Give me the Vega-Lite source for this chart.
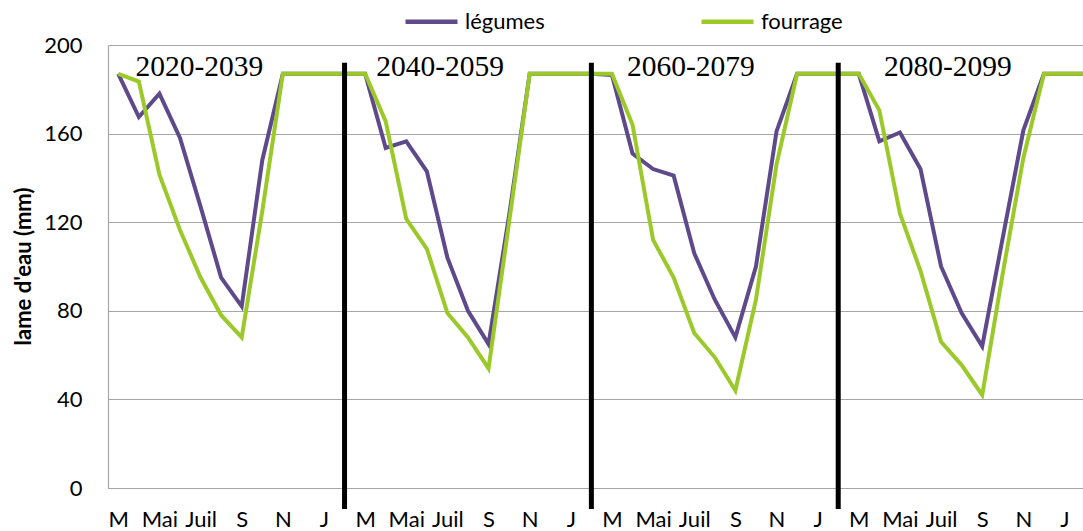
{
  "$schema": "https://vega.github.io/schema/vega-lite/v6.json",
  "autosize": "none",
  "width": 975,
  "height": 443,
  "padding": {"left": 108, "top": 45, "right": 0, "bottom": 43},
  "background": "white",
  "config": {"view": {"stroke": null}, "font": "Lato"},
  "datasets": {
    "series": [
      {"idx": 0, "period": "2020-2039", "month": "M", "crop": "légumes", "value": 187},
      {"idx": 1, "period": "2020-2039", "month": "A", "crop": "légumes", "value": 167.5},
      {"idx": 2, "period": "2020-2039", "month": "Mai", "crop": "légumes", "value": 178},
      {"idx": 3, "period": "2020-2039", "month": "Juin", "crop": "légumes", "value": 158},
      {"idx": 4, "period": "2020-2039", "month": "Juil", "crop": "légumes", "value": 127},
      {"idx": 5, "period": "2020-2039", "month": "Août", "crop": "légumes", "value": 95},
      {"idx": 6, "period": "2020-2039", "month": "S", "crop": "légumes", "value": 82},
      {"idx": 7, "period": "2020-2039", "month": "O", "crop": "légumes", "value": 148},
      {"idx": 8, "period": "2020-2039", "month": "N", "crop": "légumes", "value": 187},
      {"idx": 9, "period": "2020-2039", "month": "D", "crop": "légumes", "value": 187},
      {"idx": 10, "period": "2020-2039", "month": "J", "crop": "légumes", "value": 187},
      {"idx": 11, "period": "2020-2039", "month": "F", "crop": "légumes", "value": 187},
      {"idx": 12, "period": "2040-2059", "month": "M", "crop": "légumes", "value": 187},
      {"idx": 13, "period": "2040-2059", "month": "A", "crop": "légumes", "value": 153.5},
      {"idx": 14, "period": "2040-2059", "month": "Mai", "crop": "légumes", "value": 156.5},
      {"idx": 15, "period": "2040-2059", "month": "Juin", "crop": "légumes", "value": 143},
      {"idx": 16, "period": "2040-2059", "month": "Juil", "crop": "légumes", "value": 104},
      {"idx": 17, "period": "2040-2059", "month": "Août", "crop": "légumes", "value": 80},
      {"idx": 18, "period": "2040-2059", "month": "S", "crop": "légumes", "value": 65},
      {"idx": 19, "period": "2040-2059", "month": "O", "crop": "légumes", "value": 123},
      {"idx": 20, "period": "2040-2059", "month": "N", "crop": "légumes", "value": 187},
      {"idx": 21, "period": "2040-2059", "month": "D", "crop": "légumes", "value": 187},
      {"idx": 22, "period": "2040-2059", "month": "J", "crop": "légumes", "value": 187},
      {"idx": 23, "period": "2040-2059", "month": "F", "crop": "légumes", "value": 187},
      {"idx": 24, "period": "2060-2079", "month": "M", "crop": "légumes", "value": 186.5},
      {"idx": 25, "period": "2060-2079", "month": "A", "crop": "légumes", "value": 151},
      {"idx": 26, "period": "2060-2079", "month": "Mai", "crop": "légumes", "value": 144},
      {"idx": 27, "period": "2060-2079", "month": "Juin", "crop": "légumes", "value": 141},
      {"idx": 28, "period": "2060-2079", "month": "Juil", "crop": "légumes", "value": 106},
      {"idx": 29, "period": "2060-2079", "month": "Août", "crop": "légumes", "value": 85},
      {"idx": 30, "period": "2060-2079", "month": "S", "crop": "légumes", "value": 68},
      {"idx": 31, "period": "2060-2079", "month": "O", "crop": "légumes", "value": 100},
      {"idx": 32, "period": "2060-2079", "month": "N", "crop": "légumes", "value": 161},
      {"idx": 33, "period": "2060-2079", "month": "D", "crop": "légumes", "value": 187},
      {"idx": 34, "period": "2060-2079", "month": "J", "crop": "légumes", "value": 187},
      {"idx": 35, "period": "2060-2079", "month": "F", "crop": "légumes", "value": 187},
      {"idx": 36, "period": "2080-2099", "month": "M", "crop": "légumes", "value": 187},
      {"idx": 37, "period": "2080-2099", "month": "A", "crop": "légumes", "value": 156.5},
      {"idx": 38, "period": "2080-2099", "month": "Mai", "crop": "légumes", "value": 160.5},
      {"idx": 39, "period": "2080-2099", "month": "Juin", "crop": "légumes", "value": 144},
      {"idx": 40, "period": "2080-2099", "month": "Juil", "crop": "légumes", "value": 100},
      {"idx": 41, "period": "2080-2099", "month": "Août", "crop": "légumes", "value": 79},
      {"idx": 42, "period": "2080-2099", "month": "S", "crop": "légumes", "value": 64},
      {"idx": 43, "period": "2080-2099", "month": "O", "crop": "légumes", "value": 113},
      {"idx": 44, "period": "2080-2099", "month": "N", "crop": "légumes", "value": 161.5},
      {"idx": 45, "period": "2080-2099", "month": "D", "crop": "légumes", "value": 187},
      {"idx": 46, "period": "2080-2099", "month": "J", "crop": "légumes", "value": 187},
      {"idx": 47, "period": "2080-2099", "month": "F", "crop": "légumes", "value": 187},
      {"idx": 0, "period": "2020-2039", "month": "M", "crop": "fourrage", "value": 187},
      {"idx": 1, "period": "2020-2039", "month": "A", "crop": "fourrage", "value": 183.5},
      {"idx": 2, "period": "2020-2039", "month": "Mai", "crop": "fourrage", "value": 141.5},
      {"idx": 3, "period": "2020-2039", "month": "Juin", "crop": "fourrage", "value": 116.5},
      {"idx": 4, "period": "2020-2039", "month": "Juil", "crop": "fourrage", "value": 95},
      {"idx": 5, "period": "2020-2039", "month": "Août", "crop": "fourrage", "value": 78},
      {"idx": 6, "period": "2020-2039", "month": "S", "crop": "fourrage", "value": 68},
      {"idx": 7, "period": "2020-2039", "month": "O", "crop": "fourrage", "value": 125},
      {"idx": 8, "period": "2020-2039", "month": "N", "crop": "fourrage", "value": 187},
      {"idx": 9, "period": "2020-2039", "month": "D", "crop": "fourrage", "value": 187},
      {"idx": 10, "period": "2020-2039", "month": "J", "crop": "fourrage", "value": 187},
      {"idx": 11, "period": "2020-2039", "month": "F", "crop": "fourrage", "value": 187},
      {"idx": 12, "period": "2040-2059", "month": "M", "crop": "fourrage", "value": 187},
      {"idx": 13, "period": "2040-2059", "month": "A", "crop": "fourrage", "value": 165.5},
      {"idx": 14, "period": "2040-2059", "month": "Mai", "crop": "fourrage", "value": 121.5},
      {"idx": 15, "period": "2040-2059", "month": "Juin", "crop": "fourrage", "value": 108},
      {"idx": 16, "period": "2040-2059", "month": "Juil", "crop": "fourrage", "value": 79},
      {"idx": 17, "period": "2040-2059", "month": "Août", "crop": "fourrage", "value": 68},
      {"idx": 18, "period": "2040-2059", "month": "S", "crop": "fourrage", "value": 54},
      {"idx": 19, "period": "2040-2059", "month": "O", "crop": "fourrage", "value": 120},
      {"idx": 20, "period": "2040-2059", "month": "N", "crop": "fourrage", "value": 187},
      {"idx": 21, "period": "2040-2059", "month": "D", "crop": "fourrage", "value": 187},
      {"idx": 22, "period": "2040-2059", "month": "J", "crop": "fourrage", "value": 187},
      {"idx": 23, "period": "2040-2059", "month": "F", "crop": "fourrage", "value": 187},
      {"idx": 24, "period": "2060-2079", "month": "M", "crop": "fourrage", "value": 187},
      {"idx": 25, "period": "2060-2079", "month": "A", "crop": "fourrage", "value": 164},
      {"idx": 26, "period": "2060-2079", "month": "Mai", "crop": "fourrage", "value": 112},
      {"idx": 27, "period": "2060-2079", "month": "Juin", "crop": "fourrage", "value": 95},
      {"idx": 28, "period": "2060-2079", "month": "Juil", "crop": "fourrage", "value": 70},
      {"idx": 29, "period": "2060-2079", "month": "Août", "crop": "fourrage", "value": 59},
      {"idx": 30, "period": "2060-2079", "month": "S", "crop": "fourrage", "value": 44},
      {"idx": 31, "period": "2060-2079", "month": "O", "crop": "fourrage", "value": 85},
      {"idx": 32, "period": "2060-2079", "month": "N", "crop": "fourrage", "value": 146},
      {"idx": 33, "period": "2060-2079", "month": "D", "crop": "fourrage", "value": 187},
      {"idx": 34, "period": "2060-2079", "month": "J", "crop": "fourrage", "value": 187},
      {"idx": 35, "period": "2060-2079", "month": "F", "crop": "fourrage", "value": 187},
      {"idx": 36, "period": "2080-2099", "month": "M", "crop": "fourrage", "value": 187},
      {"idx": 37, "period": "2080-2099", "month": "A", "crop": "fourrage", "value": 170.5},
      {"idx": 38, "period": "2080-2099", "month": "Mai", "crop": "fourrage", "value": 124},
      {"idx": 39, "period": "2080-2099", "month": "Juin", "crop": "fourrage", "value": 98},
      {"idx": 40, "period": "2080-2099", "month": "Juil", "crop": "fourrage", "value": 66},
      {"idx": 41, "period": "2080-2099", "month": "Août", "crop": "fourrage", "value": 55.5},
      {"idx": 42, "period": "2080-2099", "month": "S", "crop": "fourrage", "value": 42},
      {"idx": 43, "period": "2080-2099", "month": "O", "crop": "fourrage", "value": 97},
      {"idx": 44, "period": "2080-2099", "month": "N", "crop": "fourrage", "value": 149},
      {"idx": 45, "period": "2080-2099", "month": "D", "crop": "fourrage", "value": 187},
      {"idx": 46, "period": "2080-2099", "month": "J", "crop": "fourrage", "value": 187},
      {"idx": 47, "period": "2080-2099", "month": "F", "crop": "fourrage", "value": 187}
    ],
    "dividers": [{"idx": 11}, {"idx": 23}, {"idx": 35}],
    "periods": [
      {"label": "2020-2039", "pos": 3.94},
      {"label": "2040-2059", "pos": 15.65},
      {"label": "2060-2079", "pos": 27.84},
      {"label": "2080-2099", "pos": 40.33}
    ]
  },
  "layer": [
    {
      "data": {"name": "series"},
      "mark": {"type": "line", "strokeWidth": 4, "clip": true},
      "encoding": {
        "x": {
          "field": "idx",
          "type": "quantitative",
          "scale": {"domain": [-0.5, 46.9], "nice": false, "zero": false},
          "axis": {
            "title": null,
            "values": [0, 2, 4, 6, 8, 10, 12, 14, 16, 18, 20, 22, 24, 26, 28, 30, 32, 34, 36, 38, 40, 42, 44, 46],
            "labelExpr": "['M','Mai','Juil','S','N','J'][(datum.value % 12) / 2]",
            "grid": false,
            "ticks": false,
            "domainColor": "#A6A6A6",
            "domainWidth": 1.2,
            "labelFont": "Lato",
            "labelFontSize": 22,
            "labelColor": "#000000",
            "labelPadding": 21,
            "labelBaseline": "top",
            "labelOverlap": false,
            "labelFlush": false
          }
        },
        "y": {
          "field": "value",
          "type": "quantitative",
          "scale": {"domain": [0, 200], "nice": false},
          "axis": {
            "title": "lame d'eau (mm)",
            "values": [0, 40, 80, 120, 160, 200],
            "grid": true,
            "gridColor": "#A6A6A6",
            "gridWidth": 1.2,
            "ticks": false,
            "domainColor": "#A6A6A6",
            "domainWidth": 1.2,
            "labelFont": "Lato",
            "labelFontSize": 22,
            "labelColor": "#000000",
            "labelPadding": 26,
            "titleFont": "Lato",
            "titleFontSize": 22,
            "titleFontWeight": "bold",
            "titleColor": "#000000",
            "titleAngle": 270,
            "titleAlign": "center",
            "titleBaseline": "middle",
            "titleX": -85,
            "titleY": 221
          }
        },
        "color": {
          "field": "crop",
          "type": "nominal",
          "scale": {"domain": ["légumes", "fourrage"], "range": ["#5E4A8A", "#9BC92A"]},
          "legend": {
            "title": null,
            "orient": "none",
            "direction": "horizontal",
            "legendX": 295,
            "legendY": -52,
            "symbolType": "stroke",
            "symbolSize": 2704,
            "symbolStrokeWidth": 4.5,
            "labelFont": "Lato",
            "labelFontSize": 22,
            "labelColor": "#000000",
            "labelOffset": 5,
            "columnPadding": 147
          }
        },
        "order": {"field": "idx", "type": "quantitative"}
      }
    },
    {
      "data": {"name": "dividers"},
      "mark": {"type": "rule", "color": "#000000", "strokeWidth": 5},
      "encoding": {
        "x": {"field": "idx", "type": "quantitative"},
        "y": {"datum": 192},
        "y2": {"datum": -9.5}
      }
    },
    {
      "data": {"name": "periods"},
      "mark": {"type": "text", "font": "Liberation Serif", "fontSize": 29.5, "color": "#000000", "align": "center", "baseline": "alphabetic"},
      "encoding": {
        "x": {"field": "pos", "type": "quantitative"},
        "y": {"datum": 186},
        "text": {"field": "label"}
      }
    }
  ]
}
